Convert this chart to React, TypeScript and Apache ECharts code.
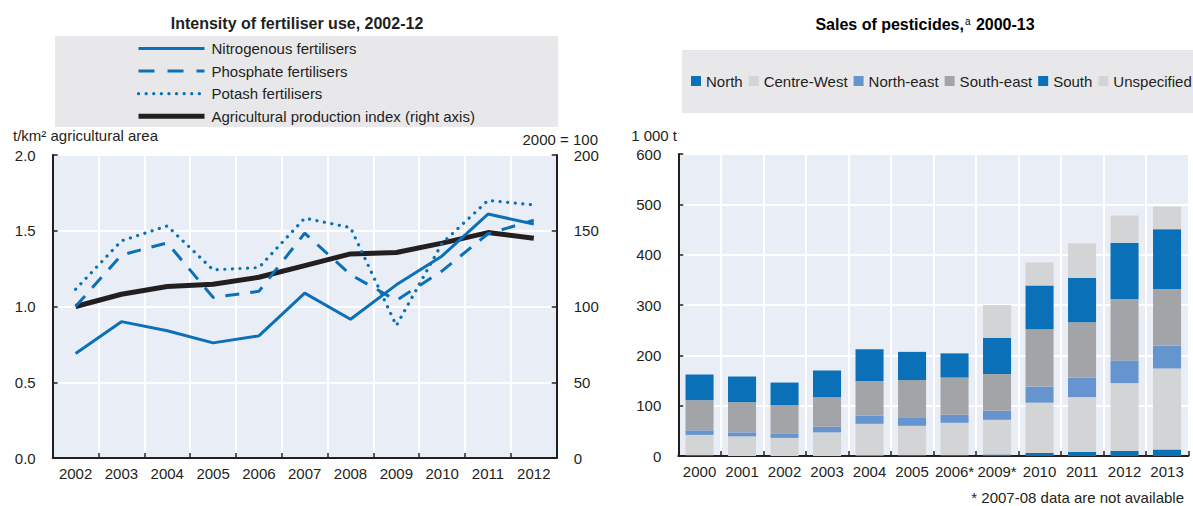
import React, { useEffect, useRef } from "react";
import * as echarts from "echarts";

const years = ["2002", "2003", "2004", "2005", "2006", "2007", "2008", "2009", "2010", "2011", "2012"];
const nitrogen = [0.69, 0.9, 0.84, 0.76, 0.806, 1.088, 0.916, 1.143, 1.334, 1.61, 1.544];
const phosphate = [1.0, 1.34, 1.42, 1.06, 1.1, 1.484, 1.21, 1.04, 1.235, 1.48, 1.57];
const potash = [1.114, 1.433, 1.532, 1.242, 1.257, 1.583, 1.521, 0.874, 1.418, 1.7, 1.671];
const agriIndex = [100, 108.1, 113.2, 114.7, 119.3, 127, 134.7, 135.6, 141.8, 148.8, 145.1];

const barYears = ["2000", "2001", "2002", "2003", "2004", "2005", "2006*", "2009*", "2010", "2011", "2012", "2013"];
const north = [2, 0, 0, 0, 1, 2, 2, 3, 6, 8, 10, 13];
const centreWest = [40, 39, 36, 47, 63, 58, 64, 69, 100, 109, 135, 161];
const northEast = [9, 8, 8, 11, 16, 17, 16, 18, 32, 39, 45, 45];
const southEast = [60, 60, 57, 59, 69, 74, 74, 73, 114, 110, 122, 113];
const south = [51, 51, 45, 53, 63, 56, 48, 72, 87, 88, 112, 119];
const unspecified = [0, 0, 0, 0, 0, 0, 0, 65, 46, 69, 54, 45];

const FONT = "Liberation Sans, Arial, Helvetica, sans-serif";
const INK = "#231f20";
const BLUE = "#0a70b8";
const MIDBLUE = "#6694cf";
const GRAY = "#a3a4a8";
const LIGHT = "#d3d4d6";
const PLOT_BG = "#e9eef6";
const LEG_BG = "#e8e8eb";
const CLEAR = "rgba(0,0,0,0)";

export default function App() {
  const ref = useRef<HTMLDivElement>(null);
  useEffect(() => {
    document.body.style.margin = "0";
    const chart = echarts.init(ref.current!, null, { renderer: "svg" });
    const axisLine = { show: true, lineStyle: { color: INK, width: 2 } };
    const axisTick = { show: true, inside: true, length: 5, lineStyle: { color: INK, width: 1.5 } };
    const label = { color: INK, fontSize: 15, fontFamily: FONT };
    const split = { show: true, lineStyle: { color: "#ffffff", width: 2 } };
    const option: any = {
      animation: false,
      textStyle: { fontFamily: FONT },
      graphic: [
        { type: "rect", z: -10, shape: { x: 55, y: 36, width: 503, height: 91 }, style: { fill: LEG_BG } },
        { type: "rect", z: -10, shape: { x: 682, y: 50, width: 511, height: 63 }, style: { fill: LEG_BG } },
        {
          type: "text", x: 297, y: 23,
          style: { text: "Intensity of fertiliser use, 2002-12", font: `bold 16px ${FONT}`, fill: INK, textAlign: "center", textVerticalAlign: "middle" },
        },
        {
          type: "text", x: 925, y: 24,
          style: {
            text: "{b|Sales of pesticides,}{s|a}{b| 2000-13}",
            textAlign: "center", textVerticalAlign: "middle",
            rich: {
              b: { fontSize: 16, fontWeight: "bold", fontFamily: FONT, color: INK },
              s: { fontSize: 10, fontFamily: FONT, color: INK, verticalAlign: "top", padding: [0, 1, 6, 1] },
            },
          },
        },
        { type: "text", x: 13, y: 135, style: { text: "t/km² agricultural area", font: `15px ${FONT}`, fill: INK, textAlign: "left", textVerticalAlign: "middle" } },
        { type: "text", x: 598, y: 139, style: { text: "2000 = 100", font: `15px ${FONT}`, fill: INK, textAlign: "right", textVerticalAlign: "middle" } },
        { type: "text", x: 677, y: 135, style: { text: "1 000 t", font: `15px ${FONT}`, fill: INK, textAlign: "right", textVerticalAlign: "middle" } },
        { type: "text", x: 1184, y: 497, style: { text: "* 2007-08 data are not available", font: `15px ${FONT}`, fill: INK, textAlign: "right", textVerticalAlign: "middle" } },
      ],
      legend: [
        {
          orient: "vertical", left: 136, top: 41, padding: 0, itemWidth: 66, itemHeight: 14, itemGap: 7.6,
          selectedMode: false,
          itemStyle: { opacity: 0 },
          textStyle: { color: INK, fontSize: 15, fontFamily: FONT, padding: [0, 0, 0, 2] },
          data: [
            { name: "Nitrogenous fertilisers", lineStyle: { width: 3 } },
            { name: "Phosphate fertilisers", lineStyle: { width: 3, type: [16, 13] } },
            { name: "Potash fertilisers", lineStyle: { width: 3.2 } },
            { name: "Agricultural production index (right axis)", lineStyle: { width: 5 } },
          ],
        },
        {
          orient: "horizontal", left: 691, top: 73.5, padding: 0, width: 510, itemWidth: 10, itemHeight: 10, itemGap: 6,
          selectedMode: false, icon: "rect",
          textStyle: { color: INK, fontSize: 15, fontFamily: FONT },
          data: ["North", "Centre-West", "North-east", "South-east", "South", "Unspecified"],
        },
      ],
      grid: [
        { left: 52.7, top: 155, width: 504, height: 303, show: true, backgroundColor: PLOT_BG, borderWidth: 0 },
        { left: 678.3, top: 154.2, width: 510, height: 301.8, show: true, backgroundColor: PLOT_BG, borderWidth: 0 },
      ],
      xAxis: [
        {
          type: "category", gridIndex: 0, data: years, boundaryGap: true,
          axisLine, axisTick: { ...axisTick, interval: 0 }, axisLabel: { ...label, margin: 8, interval: 0 },
          splitLine: { ...split, interval: 0 },
        },
        {
          type: "category", gridIndex: 1, data: barYears, boundaryGap: true,
          axisLine, axisTick: { ...axisTick, interval: 0 }, axisLabel: { ...label, margin: 8, interval: 0 },
          splitLine: { ...split, interval: 0 },
        },
      ],
      yAxis: [
        {
          type: "value", gridIndex: 0, min: 0, max: 2, interval: 0.5,
          axisLine, axisTick, splitLine: split,
          axisLabel: { ...label, margin: 17, formatter: (v: number) => v.toFixed(1) },
        },
        {
          type: "value", gridIndex: 0, position: "right", min: 0, max: 200, interval: 50,
          axisLine, axisTick, splitLine: { show: false },
          axisLabel: { ...label, margin: 17 },
        },
        {
          type: "value", gridIndex: 1, min: 0, max: 600, interval: 100,
          axisLine, axisTick, splitLine: split,
          axisLabel: { ...label, margin: 17 },
        },
      ],
      series: [
        {
          name: "Nitrogenous fertilisers", type: "line", xAxisIndex: 0, yAxisIndex: 0, data: nitrogen,
          symbol: "none", lineStyle: { color: BLUE, width: 3 }, itemStyle: { color: CLEAR }, z: 3,
        },
        {
          name: "Phosphate fertilisers", type: "line", xAxisIndex: 0, yAxisIndex: 0, data: phosphate,
          symbol: "none", lineStyle: { color: BLUE, width: 3, type: [14, 11] }, itemStyle: { color: CLEAR }, z: 3,
        },
        {
          name: "Potash fertilisers", type: "line", xAxisIndex: 0, yAxisIndex: 0, data: potash,
          symbol: "none", lineStyle: { color: BLUE, width: 3.2, type: [0.1, 7.5], cap: "round" }, itemStyle: { color: CLEAR }, z: 3,
        },
        {
          name: "Agricultural production index (right axis)", type: "line", xAxisIndex: 0, yAxisIndex: 1, data: agriIndex,
          symbol: "none", lineStyle: { color: INK, width: 5 }, itemStyle: { color: CLEAR }, z: 2,
        },
        { name: "North", type: "bar", stack: "p", xAxisIndex: 1, yAxisIndex: 2, data: north, barWidth: "66%", itemStyle: { color: BLUE } },
        { name: "Centre-West", type: "bar", stack: "p", xAxisIndex: 1, yAxisIndex: 2, data: centreWest, barWidth: "66%", itemStyle: { color: LIGHT } },
        { name: "North-east", type: "bar", stack: "p", xAxisIndex: 1, yAxisIndex: 2, data: northEast, barWidth: "66%", itemStyle: { color: MIDBLUE } },
        { name: "South-east", type: "bar", stack: "p", xAxisIndex: 1, yAxisIndex: 2, data: southEast, barWidth: "66%", itemStyle: { color: GRAY } },
        { name: "South", type: "bar", stack: "p", xAxisIndex: 1, yAxisIndex: 2, data: south, barWidth: "66%", itemStyle: { color: BLUE } },
        { name: "Unspecified", type: "bar", stack: "p", xAxisIndex: 1, yAxisIndex: 2, data: unspecified, barWidth: "66%", itemStyle: { color: LIGHT } },
      ],
    };
    chart.setOption(option);
    return () => chart.dispose();
  }, []);
  return <div ref={ref} style={{ width: 1193, height: 506 }} />;
}
